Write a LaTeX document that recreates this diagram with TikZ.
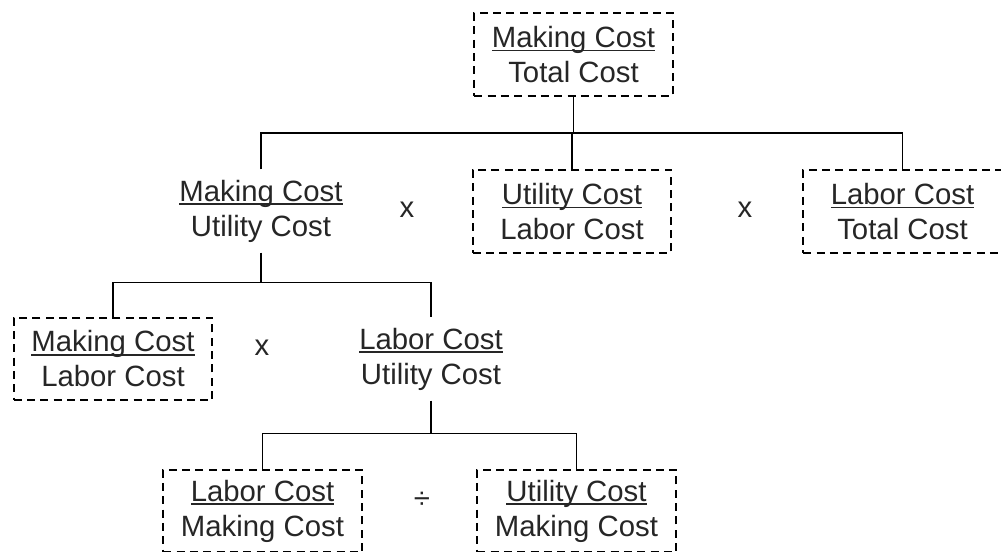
\documentclass[tikz,border=0pt]{standalone}
\usepackage{fontspec}
\setmainfont{Liberation Sans}
% numerator with a rule just under its baseline
\newcommand\numer[1]{\setbox0\hbox{#1}\rlap{\rule[-3pt]{\wd0}{1.2pt}}\box0}
\begin{document}
\begin{tikzpicture}[x=0.75pt,y=-0.75pt,
  lbl/.style={font=\fontsize{22}{26.25}\selectfont, text=black!85, align=center, inner sep=0pt},
  ratio/.style={lbl, minimum width=149pt, minimum height=62pt},
  costbox/.style={ratio, draw=black, line width=1.3pt, dash pattern=on 6pt off 4pt},
  conn/.style={draw=black, line width=1.3pt}]
\useasboundingbox (0,0) rectangle (1001,552);

% level 0
\node[costbox] (top) at (573.5,54.5) {\numer{Making Cost}\\Total Cost};

% level 1
\node[ratio]   (mu) at (261,211)   {\numer{Making Cost}\\Utility Cost};
\node[lbl]     (op1) at (407,210)  {x};
\node[costbox] (ul) at (572,211.5) {\numer{Utility Cost}\\Labor Cost};
\node[lbl]     (op2) at (745,210)  {x};
\node[costbox] (lt) at (902.5,211.5) {\numer{Labor Cost}\\Total Cost};

% level 2
\node[costbox] (ml) at (113,359)   {\numer{Making Cost}\\Labor Cost};
\node[lbl]     (op3) at (262,348)  {x};
\node[ratio]   (lu) at (431,359)   {\numer{Labor Cost}\\Utility Cost};

% level 3
\node[costbox] (lm) at (262.5,511) {\numer{Labor Cost}\\Making Cost};
\node[lbl]     (op4) at (422,500)  {÷};
\node[costbox] (um) at (576.5,511) {\numer{Utility Cost}\\Making Cost};

% tree connectors
\draw[conn] (top.south) -- ++(0,36) coordinate (j1);
\draw[conn] (mu.north) |- (j1) -| (lt.north);
\draw[conn] (ul.north) -- (ul.north |- j1);

\draw[conn] (mu.south) -- ++(0,30) coordinate (j2);
\draw[conn] (ml.north) |- (j2) -| (lu.north);

\draw[conn] (lu.south) -- ++(0,33) coordinate (j3);
\draw[conn] (lm.north) |- (j3) -| (um.north);
\end{tikzpicture}
\end{document}
